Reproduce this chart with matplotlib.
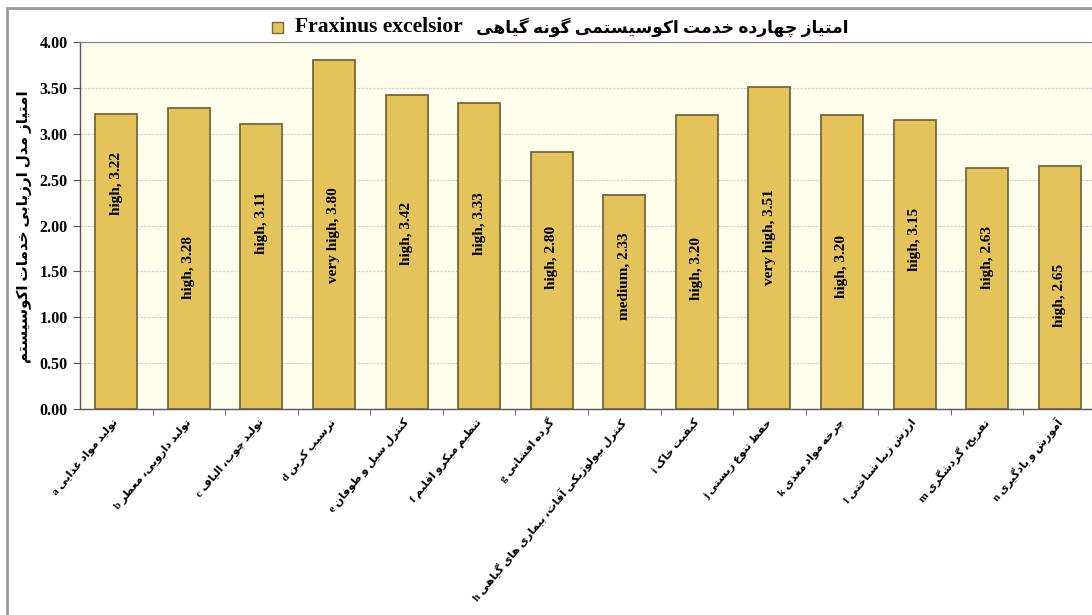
import matplotlib
matplotlib.use("Agg")
import matplotlib.pyplot as plt
from matplotlib.patches import Rectangle
from matplotlib.ticker import FixedLocator, MultipleLocator

# Ecosystem service scores for Fraxinus excelsior
letters = ["a", "b", "c", "d", "e", "f", "g", "h", "i", "j", "k", "l", "m", "n"]
services = [
    "تولید مواد غذایی",
    "تولید دارویی، معطر",
    "تولید چوب، الیاف",
    "ترسیب کربن",
    "کنترل سیل و طوفان",
    "تنظیم میکرو اقلیم",
    "گرده افشانی",
    "کنترل بیولوژیکی آفات، بیماری های گیاهی",
    "کیفیت خاک",
    "حفظ تنوع زیستی",
    "چرخه مواد مغذی",
    "ارزش زیبا شناختی",
    "تفریح، گردشگری",
    "آموزش و یادگیری",
]
scores = [3.22, 3.28, 3.11, 3.80, 3.42, 3.33, 2.80, 2.33, 3.20, 3.51, 3.20, 3.15, 2.63, 2.65]
levels = ["high", "high", "high", "very high", "high", "high", "high", "medium",
          "high", "very high", "high", "high", "high", "high"]
# where each value label sits along its bar
label_y = [2.46, 1.54, 2.03, 1.90, 1.91, 2.02, 1.65, 1.45, 1.53, 1.87, 1.55, 1.85, 1.65, 1.24]

title_fa = "امتیاز چهارده خدمت اکوسیستمی گونه گیاهی"
species = "Fraxinus excelsior"
ylabel_fa = "امتیاز مدل ارزیابی خدمات اکوسیستم"

# --- minimal Persian shaping (presentation forms) + visual reordering ---
DUAL = {"\u0628": 0xFE8F, "\u062A": 0xFE95, "\u062B": 0xFE99, "\u062C": 0xFE9D,
        "\u062D": 0xFEA1, "\u062E": 0xFEA5, "\u0633": 0xFEB1, "\u0634": 0xFEB5,
        "\u0635": 0xFEB9, "\u0636": 0xFEBD, "\u0637": 0xFEC1, "\u0638": 0xFEC5,
        "\u0639": 0xFEC9, "\u063A": 0xFECD, "\u0641": 0xFED1, "\u0642": 0xFED5,
        "\u0644": 0xFEDD, "\u0645": 0xFEE1, "\u0646": 0xFEE5, "\u0647": 0xFEE9,
        "\u0626": 0xFE89, "\u067E": 0xFB56, "\u0686": 0xFB7A, "\u06A9": 0xFB8E,
        "\u06AF": 0xFB92, "\u06CC": 0xFBFC}
RIGHT = {"\u0622": 0xFE81, "\u0627": 0xFE8D, "\u062F": 0xFEA9, "\u0630": 0xFEAB,
         "\u0631": 0xFEAD, "\u0632": 0xFEAF, "\u0648": 0xFEED, "\u0698": 0xFB8A,
         "\u0623": 0xFE83, "\u0624": 0xFE85}
LAM_ALEF = {"\u0627": 0xFEFB, "\u0622": 0xFEF5}


def shape(text):
    out = []
    chars = list(text)
    i = 0
    while i < len(chars):
        c = chars[i]
        prev = chars[i - 1] if i > 0 else ""
        nxt = chars[i + 1] if i + 1 < len(chars) else ""
        joins_prev = prev in DUAL
        if c == "\u0644" and nxt in LAM_ALEF:
            out.append(chr(LAM_ALEF[nxt] + (1 if joins_prev else 0)))
            i += 2
            continue
        if c in DUAL:
            joins_next = nxt in DUAL or nxt in RIGHT
            if joins_prev and joins_next:
                off = 3
            elif joins_next:
                off = 2
            elif joins_prev:
                off = 1
            else:
                off = 0
            out.append(chr(DUAL[c] + off))
        elif c in RIGHT:
            out.append(chr(RIGHT[c] + (1 if joins_prev else 0)))
        else:
            out.append(c)
        i += 1
    return "".join(out)


def rtl(text):
    return shape(text)[::-1]


fonts = ["Liberation Serif", "DejaVu Sans"]
bar_face = "#E3C35A"
bar_edge = "#76683E"

fig = plt.figure(figsize=(10.92, 6.15), dpi=100)
fig.patch.set_facecolor("white")

# plot area runs slightly past the right edge of the canvas
ax = fig.add_axes([80 / 1092, 206 / 615, 1016 / 1092, 367 / 615])
ax.set_facecolor("#FFFEEC")

x = list(range(len(scores)))
ax.bar(x, scores, width=0.58, color=bar_face, edgecolor=bar_edge, linewidth=1.3, zorder=3)

for xi, yi, lev, val in zip(x, label_y, levels, scores):
    ax.text(xi, yi, f"{lev}, {val:.2f}", rotation=90, ha="center", va="center",
            fontsize=11, fontweight="bold", family=fonts, color="black", zorder=4)

ax.set_xlim(-0.5, len(scores) - 0.5)
ax.set_ylim(0, 4)
ax.yaxis.set_major_locator(MultipleLocator(0.5))
ax.yaxis.set_major_formatter("{x:.2f}")
ax.grid(axis="y", color="#D2D2D2", linestyle=(0, (2, 1)), linewidth=0.9, zorder=0)
ax.set_axisbelow(True)

ax.set_xticks(x)
ax.set_xticklabels([f"{l} " + rtl(s) for l, s in zip(letters, services)],
                   rotation=50, ha="right", va="center", rotation_mode="anchor",
                   fontsize=8.0, fontweight="bold", family=fonts)
ax.xaxis.set_minor_locator(FixedLocator([k + 0.5 for k in range(len(scores))]))
ax.tick_params(axis="x", which="major", length=0, pad=8)
ax.tick_params(axis="x", which="minor", length=4, color="#555555")
ax.tick_params(axis="y", length=5, color="#555555", pad=4)
for lab in ax.get_yticklabels():
    lab.set_family(fonts)
    lab.set_fontweight("bold")
    lab.set_fontsize(11.5)

for side in ("left", "bottom"):
    ax.spines[side].set_color("#555555")
    ax.spines[side].set_linewidth(1.0)
ax.spines["top"].set_color("#808080")
ax.spines["right"].set_visible(False)

# y axis title
fig.text(24 / 1092, 1 - 227 / 615, rtl(ylabel_fa), rotation=90, ha="center", va="center",
         fontsize=11, fontweight="bold", family=fonts)

# legend strip above the plot
fig.add_artist(Rectangle((272 / 1092, 1 - 33 / 615), 11 / 1092, 11 / 615,
                         transform=fig.transFigure, facecolor=bar_face,
                         edgecolor=bar_edge, linewidth=1.0))
fig.text(295 / 1092, 1 - 27 / 615, species, ha="left", va="center",
         fontsize=15.5, fontweight="bold", family=fonts)
fig.text(848 / 1092, 1 - 27 / 615, rtl(title_fa), ha="right", va="center",
         fontsize=12.3, fontweight="bold", family=fonts)

# outer chart frame
fig.add_artist(Rectangle((7 / 1092, -0.05), 1.2, 1.05 - 8 / 615, transform=fig.transFigure,
                         fill=False, edgecolor="#9A9A9A", linewidth=2.0))

fig.savefig("out.png", dpi=100)
